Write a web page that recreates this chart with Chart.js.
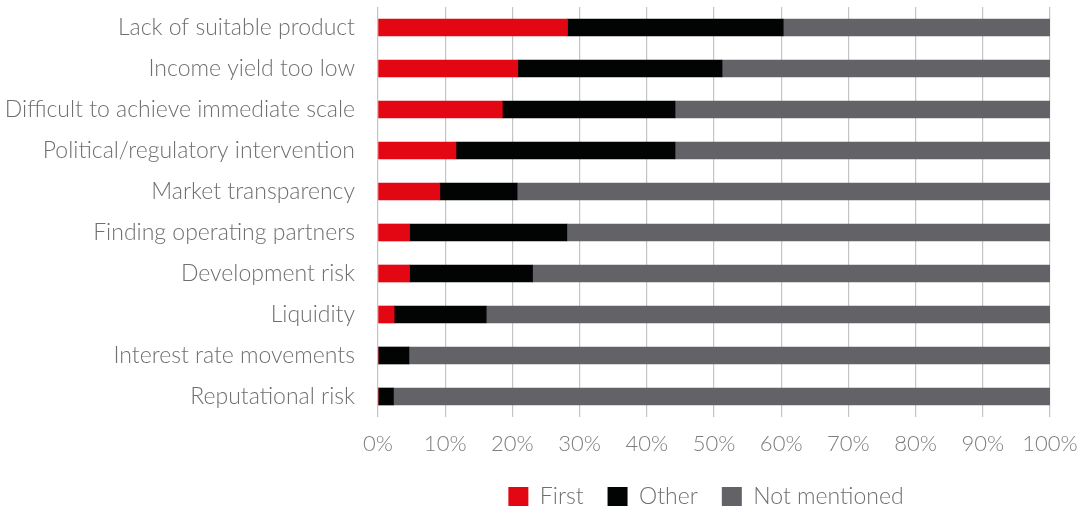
<!DOCTYPE html>
<html>
<head>
<meta charset="utf-8">
<script src="https://cdn.jsdelivr.net/npm/chart.js@4/dist/chart.umd.min.js"></script>
<style>
  html, body { margin: 0; padding: 0; background: #fff; }
  #wrap { width: 1083px; height: 511px; position: relative; }
</style>
</head>
<body>
<div id="wrap"><canvas id="myChart"></canvas></div>
<script>
// obstacles to investing, share of respondents (%)
const barriers = [
  "Lack of suitable product",
  "Income yield too low",
  "Difficult to achieve immediate scale",
  "Political/regulatory intervention",
  "Market transparency",
  "Finding operating partners",
  "Development risk",
  "Liquidity",
  "Interest rate movements",
  "Reputational risk"
];
const first = [28.2, 20.8, 18.5, 11.6, 9.2, 4.7, 4.7, 2.4, 0, 0];
const other = [32.1, 30.4, 25.7, 32.6, 11.5, 23.4, 18.3, 13.7, 4.6, 2.3];
const notMentioned = [39.7, 48.8, 55.8, 55.8, 79.3, 71.9, 77.0, 83.9, 95.4, 97.7];

const xTicks = [0, 10, 20, 30, 40, 50, 60, 70, 80, 90, 100];

Chart.defaults.font.family = "Lato, 'Noto Sans', sans-serif";
Chart.defaults.font.weight = 300;
Chart.defaults.color = "#6f6f73";

// keep the legend under the plot, a fixed gap below the axis
const legendUnderPlot = {
    id: "legendUnderPlot",
    afterLayout(chart) {
        const a = chart.chartArea;
        const lg = chart.legend;
        if (!lg) return;
        const h = lg.height;
        lg.left = a.left - 16;
        lg.right = a.right;
        lg.width = lg.right - lg.left;
        lg.top = a.bottom + 44;
        lg.bottom = lg.top + h;
    }
};

let grafico = new Chart("myChart", {
    type: "bar",
    data: {
        labels: barriers,
        datasets: [{
            label: "First",
            data: first,
            backgroundColor: "#e30613"
        }, {
            label: "Other",
            data: other,
            backgroundColor: "#020303"
        }, {
            label: "Not mentioned",
            data: notMentioned,
            backgroundColor: "#636367"
        }]
    },
    plugins: [legendUnderPlot],
    options: {
        indexAxis: "y",
        responsive: true,
        maintainAspectRatio: false,
        animation: false,
        barThickness: 17,
        layout: { padding: { top: 7, right: 33, bottom: -8, left: 0 } },
        scales: {
            x: {
                stacked: true,
                min: 0,
                max: 100,
                afterBuildTicks: (axis) => { axis.ticks = xTicks.map(v => ({ value: v })); },
                afterFit: (scale) => {
                    scale.height = 45;
                    scale.paddingLeft = 0;
                    scale.paddingRight = 0;
                },
                grid: { color: "#c4c4c4", lineWidth: 1.2, drawTicks: false },
                border: { display: false },
                ticks: {
                    padding: 14,
                    font: { size: 22, weight: 300 },
                    color: "#7d7d80",
                    callback: (v) => v + "%"
                }
            },
            y: {
                stacked: true,
                afterFit: (scale) => {
                    scale.width = 378;
                    scale.paddingTop = 0;
                    scale.paddingBottom = 0;
                },
                grid: { display: false, drawTicks: false },
                border: { display: false },
                ticks: {
                    padding: 23,
                    font: { size: 23, weight: 300 },
                    color: "#6f6f73"
                }
            }
        },
        plugins: {
            legend: {
                display: true,
                position: "bottom",
                labels: {
                    boxWidth: 20,
                    boxHeight: 19,
                    padding: 24,
                    font: { size: 23, weight: 300 },
                    color: "#6f6f73"
                }
            },
            tooltip: { enabled: false }
        }
    }
});
</script>
</body>
</html>
